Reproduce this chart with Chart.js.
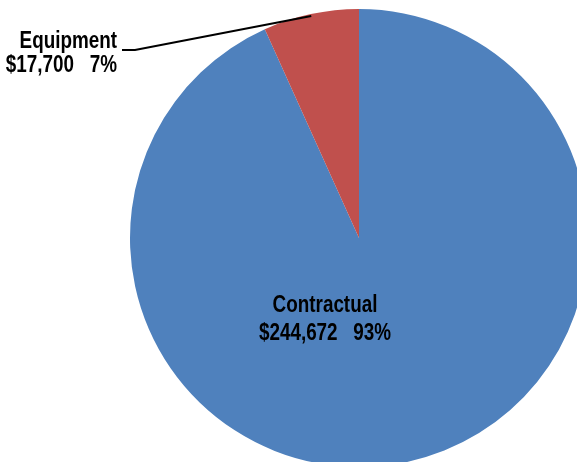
<!DOCTYPE html>
<html>
<head>
<meta charset="utf-8">
<script src="https://cdn.jsdelivr.net/npm/chart.js@4/dist/chart.umd.min.js"></script>
<style>
    html, body { margin: 0; padding: 0; background: #fff; overflow: hidden; }
    #wrap { width: 577px; height: 462px; overflow: hidden; position: relative; }
    #wrap canvas { position: absolute; left: 0; top: 0; }
</style>
</head>
<body>
<div id="wrap"><canvas id="pie" width="718" height="476"></canvas></div>
<script>
const categories = ["Contractual", "Equipment"];
const amounts = [244672, 17700];
const amountLabels = ["$244,672", "$17,700"];
const percentLabels = ["93%", "7%"];
const colors = ["#4F81BD", "#C0504D"];

const labelFont = 'bold 23px "Liberation Sans", Arial, sans-serif';
const narrow = 0.82; // squeeze the text horizontally, narrow-face look

function narrowText(ctx, text, x, y, align) {
    let w = ctx.measureText(text).width * narrow;
    let left = align === 'center' ? x - w / 2 : align === 'right' ? x - w : x;
    ctx.save();
    ctx.translate(left, y);
    ctx.scale(narrow, 1);
    ctx.textAlign = 'left';
    ctx.fillText(text, 0, 0);
    ctx.restore();
}

// draws the two slice labels; the small slice gets a leader line
const sliceLabels = {
    id: 'sliceLabels',
    afterDraw(chart) {
        const ctx = chart.ctx;
        const arcs = chart.getDatasetMeta(0).data;
        ctx.save();
        ctx.font = labelFont;
        ctx.fillStyle = '#000';

        // Contractual, inside the big slice
        let big = arcs[0];
        let bx = big.x - 34, by = big.y + 74;
        narrowText(ctx, categories[0], bx, by, 'center');
        narrowText(ctx, amountLabels[0] + '   ' + percentLabels[0], bx, by + 28, 'center');

        // Equipment, outside on the left
        let small = arcs[1];
        let mid = (small.startAngle + small.endAngle) / 2;
        let px = small.x + Math.cos(mid) * (small.outerRadius - 2);
        let py = small.y + Math.sin(mid) * (small.outerRadius - 2);
        ctx.strokeStyle = '#000';
        ctx.lineWidth = 2;
        ctx.beginPath();
        ctx.moveTo(px, py);
        ctx.lineTo(135, 50);
        ctx.lineTo(122, 50);
        ctx.stroke();
        narrowText(ctx, categories[1], 117, 48, 'right');
        narrowText(ctx, amountLabels[1] + '   ' + percentLabels[1], 117, 72, 'right');
        ctx.restore();
    }
};

new Chart(document.getElementById('pie'), {
    type: 'pie',
    data: {
        labels: categories,
        datasets: [
            {
                data: amounts,
                backgroundColor: colors,
                borderWidth: 0,
                radius: 229
            }
        ]
    },
    options: {
        responsive: false,
        animation: false,
        layout: { padding: 0 },
        plugins: {
            legend: { display: false },
            tooltip: { enabled: false }
        }
    },
    plugins: [sliceLabels]
});
</script>
</body>
</html>
